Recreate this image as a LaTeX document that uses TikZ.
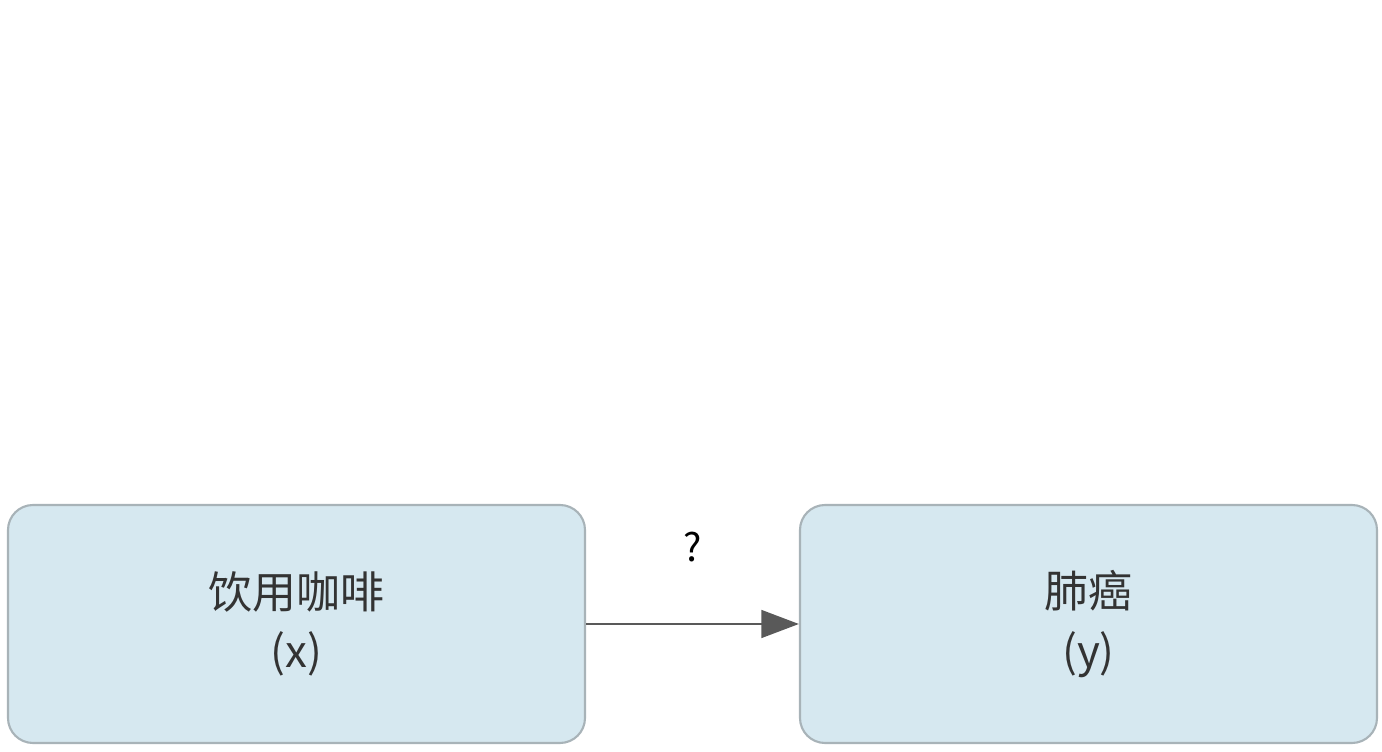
\documentclass[tikz,border=0pt]{standalone}
\usepackage{fontspec}
\setmainfont{Noto Sans CJK SC}
\usetikzlibrary{arrows.meta, positioning}
\definecolor{boxfill}{HTML}{D6E8F0}
\definecolor{boxline}{HTML}{A8B3B8}
\definecolor{arrowgray}{HTML}{595959}
\tikzset{
    varbox/.style={draw=boxline, line width=1.2pt, fill=boxfill, rounded corners=0.5cm,
        minimum width=11.54cm, minimum height=4.76cm, align=center,
        font=\fontsize{25}{34}\selectfont, text=black!80},
    causal/.style={-{Triangle[length=0.75cm, width=0.55cm]}, draw=arrowgray, line width=1.7pt}
}
\begin{document}
\begin{tikzpicture}
    \useasboundingbox (0,0) rectangle (27.64,15.04);
    \node[varbox] (coffee) at (5.93,2.56) {饮用咖啡\\(x)};
    \node[varbox] (cancer) at (21.77,2.56) {肺癌\\(y)};
    \draw[causal] (coffee) -- (cancer) node[midway, above=1.1cm, font=\fontsize{22}{26}\selectfont, text=black] (qmark) {?};
\end{tikzpicture}
\end{document}
